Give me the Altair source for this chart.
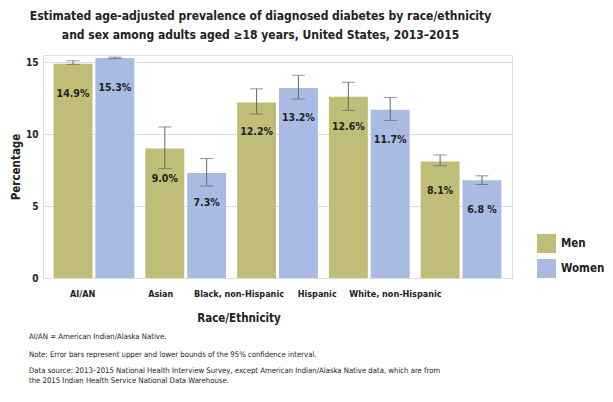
import altair as alt
import pandas as pd

groups = ["AI/AN", "Asian", "Black, non-Hispanic", "Hispanic", "White, non-Hispanic"]
sexes = ["Men", "Women"]
men = [14.9, 9.0, 12.2, 12.6, 8.1]
women = [15.3, 7.3, 13.2, 11.7, 6.8]
men_lo = [14.85, 7.6, 11.4, 11.65, 7.8]
men_hi = [15.1, 10.5, 13.15, 13.6, 8.55]
women_lo = [15.25, 6.4, 12.45, 10.95, 6.5]
women_hi = [15.35, 8.3, 14.1, 12.55, 7.1]
men_lbl = ["14.9%", "9.0%", "12.2%", "12.6%", "8.1%"]
women_lbl = ["15.3%", "7.3%", "13.2%", "11.7%", "6.8 %"]
colors = ["#BFBD78", "#A9BBE2"]

title_lines = [
    "Estimated age-adjusted prevalence of diagnosed diabetes by race/ethnicity",
    "and sex among adults aged \u226518 years, United States, 2013\u20132015",
]
footnotes = [
    "AI/AN = American Indian/Alaska Native.",
    "Note: Error bars represent upper and lower bounds of the 95% confidence interval.",
    "Data source: 2013\u20132015 National Health Interview Survey, except American Indian/Alaska Native data, which are from\nthe 2015 Indian Health Service National Data Warehouse.",
]

rows = []
for i, g in enumerate(groups):
    rows.append(dict(group=g, sex="Men", value=men[i], lo=men_lo[i], hi=men_hi[i], lbl=men_lbl[i]))
    rows.append(dict(group=g, sex="Women", value=women[i], lo=women_lo[i], hi=women_hi[i], lbl=women_lbl[i]))
df = pd.DataFrame(rows)

FONT = "DejaVu Sans Condensed"

x = alt.X("group:N", sort=groups, axis=None,
          scale=alt.Scale(paddingInner=0.12, paddingOuter=0.115))
xo = alt.XOffset("sex:N", sort=sexes, scale=alt.Scale(paddingInner=0.07))
yscale = alt.Scale(domain=[0, 15.5], nice=False)

base = alt.Chart(df)

bars = base.mark_bar().encode(
    x=x, xOffset=xo,
    y=alt.Y("value:Q", scale=yscale,
            axis=alt.Axis(values=[0, 5, 10, 15], title="Percentage", domain=False,
                          ticks=False, labelPadding=5, labelFont=FONT, labelFontSize=10,
                          labelFontWeight="bold", labelColor="#222",
                          titleFont=FONT, titleFontSize=11.5, titleFontWeight="bold",
                          titleColor="#222", titlePadding=4,
                          gridColor="#dcdcdc", gridWidth=1)),
    color=alt.Color("sex:N", sort=sexes,
                    scale=alt.Scale(domain=sexes, range=colors),
                    legend=alt.Legend(title=None, orient="none", legendX=494, legendY=179,
                                      symbolType="square", symbolSize=361,
                                      symbolStrokeWidth=0, symbolOpacity=1,
                                      labelFont=FONT, labelFontSize=11.5,
                                      labelFontWeight="bold", labelColor="#222",
                                      rowPadding=6, labelOffset=5)),
)

rules = base.mark_rule(color="#666", strokeWidth=1).encode(
    x=x, xOffset=xo, y=alt.Y("lo:Q", scale=yscale), y2="hi:Q")

caps_lo = base.mark_tick(color="#666", thickness=1, size=13).encode(
    x=x, xOffset=xo, y=alt.Y("lo:Q", scale=yscale))
caps_hi = base.mark_tick(color="#666", thickness=1, size=13).encode(
    x=x, xOffset=xo, y=alt.Y("hi:Q", scale=yscale))

labels = base.mark_text(font=FONT, fontSize=10.5, fontWeight="bold", color="#222",
                        baseline="middle", dy=30).encode(
    x=x, xOffset=xo, y=alt.Y("value:Q", scale=yscale), text="lbl:N")

cat_axis = alt.Chart(pd.DataFrame({"group": groups})).mark_point(opacity=0).encode(
    x=alt.X("group:N", sort=groups,
            scale=alt.Scale(range=[0, 391], paddingInner=0, paddingOuter=0),
            axis=alt.Axis(title="Race/Ethnicity", orient="bottom", domain=False, ticks=False,
                          labelAngle=0, labelPadding=11, labelFont=FONT, labelFontSize=9,
                          labelFontWeight="bold", labelColor="#222",
                          titleFont=FONT, titleFontSize=11.5, titleFontWeight="bold",
                          titleColor="#222", titlePadding=14)),
)

def note(text, ypos, lh=10):
    return alt.Chart(pd.DataFrame({"t": [text]})).mark_text(
        font=FONT, fontSize=7.7, align="left", baseline="middle", color="#222",
        lineBreak="\n", lineHeight=lh).encode(
        text="t:N", x=alt.value(-14), y=alt.value(ypos))

notes = note(footnotes[0], 282) + note(footnotes[1], 300) + note(footnotes[2], 315.7)

chart = alt.layer(bars, rules, caps_lo, caps_hi, labels, cat_axis, notes).resolve_scale(
    x="independent"
).properties(
    width=469, height=223,
    title=alt.Title(text=title_lines, font=FONT, fontSize=12, fontWeight="bold",
                    color="#222", anchor="middle", dx=-17, offset=13, lineHeight=19),
    autosize=alt.AutoSizeParams(type="none"),
    padding={"left": 43, "top": 55, "right": 101, "bottom": 124},
).configure_view(stroke=None).configure(background="white")

chart.save("out.html", embed_options={"renderer": "svg", "actions": False})
